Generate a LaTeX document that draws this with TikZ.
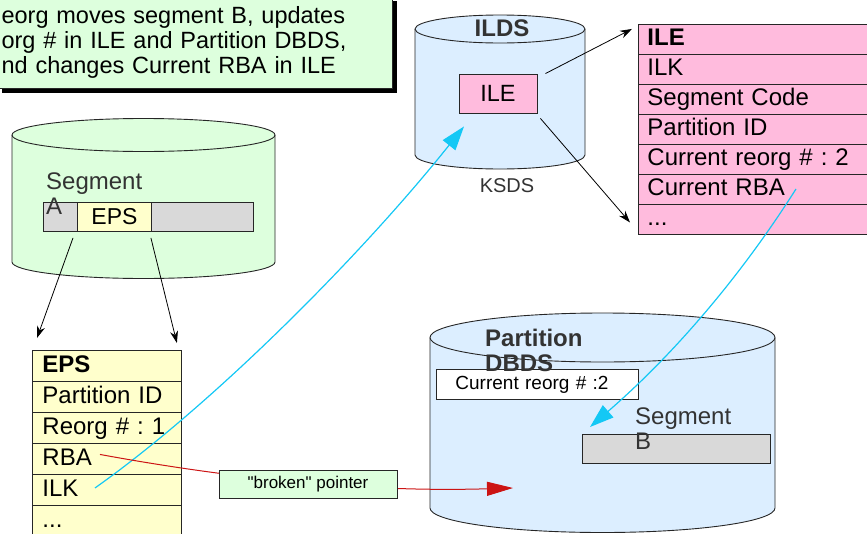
\documentclass[tikz,border=0pt]{standalone}
\usepackage{fontspec}
\setmainfont{Liberation Sans}
\usetikzlibrary{arrows.meta,shadows}
\definecolor{notegreen}{RGB}{221,255,221}
\definecolor{dbblue}{RGB}{220,238,255}
\definecolor{ilepink}{RGB}{255,187,221}
\definecolor{epsyellow}{RGB}{255,255,204}
\definecolor{seggray}{RGB}{217,217,217}
\definecolor{ptrred}{RGB}{204,20,20}
\definecolor{ptrcyan}{RGB}{20,200,245}
\definecolor{labelgray}{RGB}{51,51,51}
\frenchspacing
\begin{document}
\begin{tikzpicture}[x=1pt,y=1pt,
    box/.style={draw=black!85,line width=0.9pt},
    epsrow/.style={box,fill=epsyellow,anchor=north west,minimum height=31pt,text width=129pt,
      text height=17.5pt,text depth=4.5pt,inner xsep=10pt,inner ysep=0pt,align=left,font=\fontsize{24}{26}\selectfont},
    ilerow/.style={box,fill=ilepink,anchor=north west,minimum height=30pt,text width=224pt,
      text height=17.5pt,text depth=4.5pt,inner xsep=9pt,inner ysep=0pt,align=left,font=\fontsize{24}{26}\selectfont},
    lbl/.style={inner sep=0pt,text=labelgray,align=left,font=\fontsize{24}{25}\selectfont},
    bar/.style={box,fill=seggray,anchor=north west,minimum height=29pt,inner sep=0pt},
    blackarrow/.style={-{Stealth[length=12pt,width=8pt]},line width=0.8pt},
    pointer/.style={ptrcyan,line width=1.2pt,-{Triangle[length=24pt,width=16pt]}}]
  \clip (0,0) rectangle (867,-533);
  \node[box,fill=notegreen,anchor=south east,text width=387pt,inner xsep=4pt,minimum height=92pt,
    align=left,font=\fontsize{23.5}{25}\selectfont,
    drop shadow={shadow xshift=4pt,shadow yshift=-4pt,fill=black,opacity=1}] (note) at (393,-89)
    {eorg moves segment B, updates\\org \# in ILE and Partition DBDS,\\nd changes Current RBA in ILE};
  % segment A
  \draw[box,fill=notegreen] (12,-135) -- (12,-262) arc[start angle=180,end angle=360,x radius=131.5,y radius=16.5]
    -- (275,-135) arc[start angle=0,end angle=180,x radius=131.5,y radius=16.5] -- cycle;
  \draw[box] (12,-135) arc[start angle=180,end angle=360,x radius=131.5,y radius=16.5];
  \node[bar,minimum width=210pt] (barA) at (43,-202) {};
  \node[bar,fill=epsyellow,minimum width=74pt,font=\fontsize{23}{24}\selectfont] (epsA) at (77,-202) {EPS};
  \node[lbl,anchor=north west] (segA) at (46,-173) {Segment\\A};
  % ILDS
  \draw[box,fill=dbblue] (415,-29) -- (415,-155) arc[start angle=180,end angle=360,x radius=85,y radius=14]
    -- (585,-29) arc[start angle=0,end angle=180,x radius=85,y radius=14] -- cycle;
  \draw[box] (415,-29) arc[start angle=180,end angle=360,x radius=85,y radius=14];
  \node[lbl,anchor=north,font=\bfseries\fontsize{24}{25}\selectfont] (ilds) at (502,-20) {ILDS};
  \node[box,fill=ilepink,minimum width=78pt,minimum height=39pt,inner sep=0pt,
    font=\fontsize{23.5}{25}\selectfont] (ileIn) at (498,-93.5) {ILE};
  \node[lbl,anchor=north,font=\fontsize{20}{22}\selectfont] (ksds) at (507,-178) {KSDS};
  % partition DBDS
  \draw[box,fill=dbblue] (430,-337.5) -- (430,-508) arc[start angle=180,end angle=360,x radius=172.5,y radius=24.5]
    -- (775,-337.5) arc[start angle=0,end angle=180,x radius=172.5,y radius=24.5] -- cycle;
  \draw[box] (430,-337.5) arc[start angle=180,end angle=360,x radius=172.5,y radius=24.5];
  \node[box,fill=white,anchor=north west,minimum height=30pt,text width=164pt,inner xsep=19pt,inner ysep=0pt,
    align=left,font=\fontsize{19}{21}\selectfont] (reorgB) at (436,-369) {Current reorg \# :2};
  \node[lbl,anchor=north west,font=\bfseries\fontsize{24}{24.5}\selectfont] (dbds) at (485,-329) {Partition\\DBDS};
  \node[bar,minimum width=188pt] (barB) at (582,-434) {};
  \node[lbl,anchor=north west] (segB) at (635,-408) {Segment\\B};
  % EPS
  \node[epsrow] (eps0) at (32,-350) {\textbf{EPS}};
  \node[epsrow] (eps1) at (32,-381) {Partition ID};
  \node[epsrow] (eps2) at (32,-412) {Reorg \# : 1};
  \node[epsrow] (eps3) at (32,-443) {RBA};
  \node[epsrow] (eps4) at (32,-474) {ILK};
  \node[epsrow] (eps5) at (32,-505) {...};
  % ILE
  \node[ilerow] (ile0) at (638,-23.5) {\textbf{ILE}};
  \node[ilerow] (ile1) at (638,-53.5) {ILK};
  \node[ilerow] (ile2) at (638,-83.5) {Segment Code};
  \node[ilerow] (ile3) at (638,-113.5) {Partition ID};
  \node[ilerow] (ile4) at (638,-143.5) {Current reorg \# : 2};
  \node[ilerow] (ile5) at (638,-173.5) {Current RBA};
  \node[ilerow] (ile6) at (638,-203.5) {...};
  % arrows
  \draw[blackarrow] ([xshift=-4pt,yshift=-6pt]epsA.south west) -- ([xshift=5pt,yshift=12pt]eps0.north west);
  \draw[blackarrow] ([xshift=-1pt,yshift=-6pt]epsA.south east) -- ([xshift=-5pt,yshift=7pt]eps0.north east);
  \draw[blackarrow] ([xshift=8pt]ileIn.north east) -- ([xshift=-6pt,yshift=10pt]ile0.west);
  \draw[blackarrow] ([xshift=3pt,yshift=-5pt]ileIn.south east) -- ([xshift=-8pt,yshift=-3.5pt]ile6.west);
  \draw[pointer] ([xshift=63pt,yshift=2pt]eps4.west) .. controls (215,-403) and (364,-252) ..
    ([xshift=-34pt,yshift=-13pt]ileIn.south);
  \draw[pointer] ([xshift=158pt]ile5.west) .. controls (746,-268) and (680,-349) ..
    ([xshift=8pt,yshift=7pt]barB.north west);
  \coordinate (redTip) at (513,-488);
  \draw[ptrred,line width=1pt,-{Triangle[length=26pt,width=14pt]}] ([xshift=68pt,yshift=4.5pt]eps3.west)
    .. controls (250,-482) and (380,-492) .. (redTip);
  \node[box,line width=0.8pt,fill=notegreen,minimum width=178pt,minimum height=28pt,inner sep=0pt,
    font=\fontsize{17}{19}\selectfont] (broken) at (308,-484) {\textquotedbl broken\textquotedbl{} pointer};
\end{tikzpicture}
\end{document}
